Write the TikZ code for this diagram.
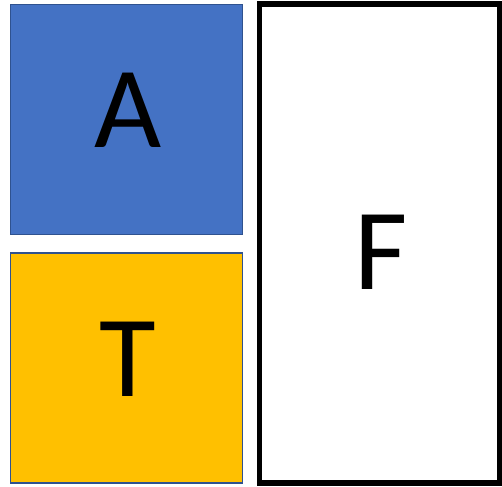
\documentclass[tikz,border=0pt]{standalone}
\usepackage{fontspec}
\setmainfont{Carlito}
\definecolor{boxblue}{HTML}{4472C4}
\definecolor{boxgold}{HTML}{FFC000}
\definecolor{edgeblue}{HTML}{2F528F}

\begin{document}
\begin{tikzpicture}[x=1pt,y=-1pt,
  letter/.style={font=\fontsize{116}{116}\selectfont,inner sep=0pt,text depth=0pt},
  tile/.style={draw=edgeblue,line width=1.8pt,minimum width=232pt,minimum height=230pt,inner sep=0pt}]
  \useasboundingbox (0,0) rectangle (502,486);
  \node[tile,fill=boxblue] (a) at (126.5,119.5) {};
  \node[tile,fill=boxgold] (t) at (126.5,368) {};
  \node[draw=black,line width=5.5pt,fill=white,minimum width=240pt,minimum height=479pt,inner sep=0pt] (f) at (379.5,243.5) {};
  % letters
  \node[letter] (la) at (128,110.5) {A};
  \node[letter] (lt) at (127.5,359.5) {T};
  \node[letter] (lf) at (381,252.5) {F};
\end{tikzpicture}
\end{document}
